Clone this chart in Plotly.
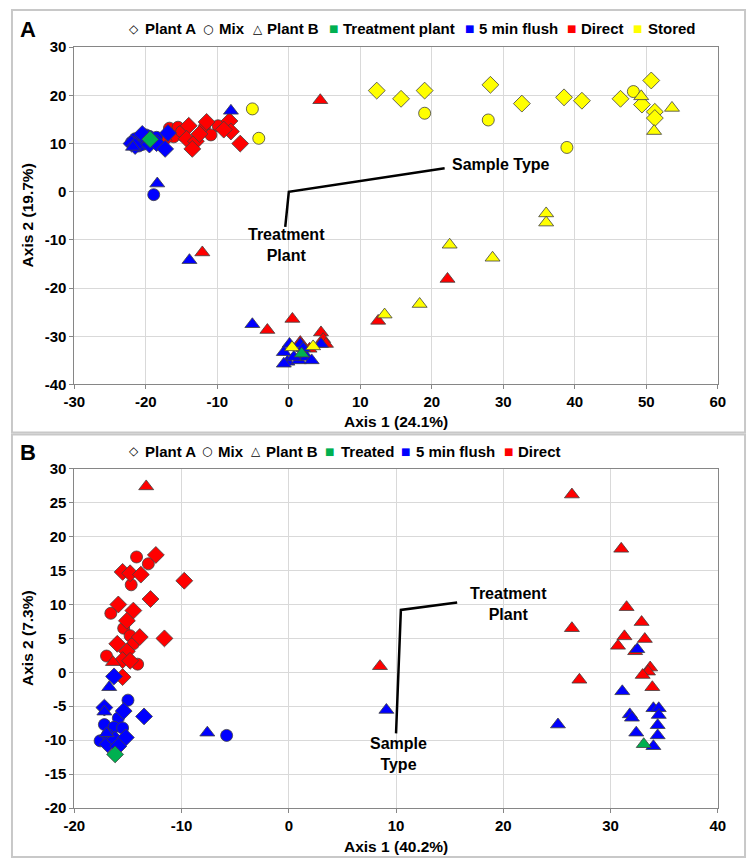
import plotly.graph_objects as go

# ---------------- Panel A data ----------------
A_flush_circle_x = [-21.0, -20.5, -21.5, -20.0, -19.5, -20.5, -22.0, -21.0, -19.0, -18.5, -20.0, -18.9]
A_flush_circle_y = [10.5, 11.2, 11.0, 10.2, 11.5, 9.8, 10.3, 9.5, 10.5, 11.3, 11.8, -0.6]
A_flush_diamond_x = [-22.0, -21.5, -19.5, -18.5, -16.9, -17.3, -20.5]
A_flush_diamond_y = [10.0, 9.5, 9.8, 10.1, 12.2, 8.9, 12.0]
A_flush_tri_x = [-21.8, -8.1, -18.4, -13.9, -5.1, 0.1, -0.7, -0.2, 1.4, 1.6, 2.5, 0.7, 4.5, -0.7, 2.0, 3.2]
A_flush_tri_y = [9.3, 16.8, 1.7, -14.2, -27.5, -31.6, -33.3, -35.3, -35.0, -31.6, -34.3, -34.3, -31.6, -35.7, -32.5, -35.0]

A_direct_circle_x = [-16.7, -15.5, -14.8, -16.1, -11.8, -9.9, -10.9, -15.0]
A_direct_circle_y = [13.2, 13.4, 11.7, 11.4, 13.4, 13.7, 11.8, 12.5]
A_direct_diamond_x = [-14.0, -14.3, -13.0, -13.5, -11.5, -8.3, -8.1, -6.8, -9.1, -17.5, -12.5]
A_direct_diamond_y = [13.7, 11.0, 10.5, 8.9, 14.5, 14.7, 12.5, 10.0, 12.9, 10.7, 12.0]
A_direct_tri_x = [4.4, -12.1, -3.0, 0.5, 1.6, 4.5, 4.8, 5.2, 2.9, 12.5, 22.2]
A_direct_tri_y = [19.0, -12.6, -28.7, -26.4, -31.2, -29.2, -30.6, -31.6, -32.6, -26.8, -18.1]

A_plant_diamond_x = [-19.4]
A_plant_diamond_y = [10.9]
A_plant_tri_x = [1.8]
A_plant_tri_y = [-33.6]

A_stored_diamond_x = [12.3, 15.7, 19.0, 28.2, 32.6, 38.5, 41.0, 46.4, 50.7, 49.4, 51.2, 51.2]
A_stored_diamond_y = [21.0, 19.3, 21.0, 22.2, 18.3, 19.6, 18.9, 19.3, 23.1, 18.1, 16.6, 15.3]
A_stored_circle_x = [-5.1, -4.2, 19.0, 27.9, 38.9, 48.2]
A_stored_circle_y = [17.2, 11.1, 16.3, 14.9, 9.2, 20.8]
A_stored_tri_x = [49.3, 53.6, 51.1, 36.0, 36.0, 28.5, 22.5, 18.3, 13.4, 0.45, 3.4]
A_stored_tri_y = [19.8, 17.4, 12.6, -4.5, -6.4, -13.7, -11.0, -23.3, -25.5, -32.3, -32.1]

# ---------------- Panel B data ----------------
B_direct_tri_x = [-13.3, -16.4, 8.5, 26.4, 31.0, 31.5, 26.4, 32.9, 31.3, 33.2, 30.7, 32.3, 33.7, 33.5, 33.0, 27.1, 33.9]
B_direct_tri_y = [27.4, 1.5, 0.9, 26.2, 18.2, 9.6, 6.5, 7.4, 5.3, 4.9, 3.9, 3.1, 0.7, 0.1, -0.4, -1.1, -2.2]
B_direct_circle_x = [-14.2, -13.1, -14.7, -16.6, -15.4, -14.8, -14.5, -17.0, -14.1]
B_direct_circle_y = [17.0, 16.0, 12.9, 8.7, 6.5, 5.4, 4.2, 2.4, 1.2]
B_direct_diamond_x = [-12.4, -15.5, -14.8, -13.8, -9.75, -12.9, -15.9, -14.5, -15.1, -13.9, -11.6, -16.0, -15.1, -15.5, -14.8, -15.5]
B_direct_diamond_y = [17.3, 14.8, 14.6, 14.4, 13.5, 10.8, 10.0, 9.1, 7.6, 5.2, 5.0, 4.2, 3.1, 1.8, 1.7, -0.7]

B_flush_tri_x = [-16.75, -17.2, -17.0, -7.6, 9.1, 32.5, 31.1, 31.8, 32.0, 32.4, 34.0, 34.0, 34.5, 34.5, 34.4, 34.4, 25.1]
B_flush_tri_y = [-2.2, -5.8, -9.0, -8.9, -5.55, 3.4, -2.8, -6.2, -6.7, -8.9, -10.9, -5.3, -5.3, -6.3, -7.8, -9.3, -7.7]
B_flush_circle_x = [-15.0, -15.9, -17.2, -16.3, -15.5, -17.6, -16.9, -16.5, -5.8]
B_flush_circle_y = [-4.1, -6.75, -7.7, -8.1, -8.2, -10.1, -9.2, -10.0, -9.3]
B_flush_diamond_x = [-16.3, -17.2, -15.4, -13.5, -16.9, -16.2, -15.2, -15.9]
B_flush_diamond_y = [-0.6, -5.2, -5.7, -6.5, -10.6, -9.9, -9.6, -10.9]

B_treated_diamond_x = [-16.2]
B_treated_diamond_y = [-12.1]
B_treated_tri_x = [33.1]
B_treated_tri_y = [-10.6]

# ticks
A_xticks = list(range(-30, 61, 10))
A_yticks = list(range(-40, 31, 10))
B_xticks = list(range(-20, 41, 10))
B_yticks = list(range(-20, 31, 5))

# legend entries
A_legend_labels = ["Plant A", "Mix", "Plant B", "Treatment plant", "5 min flush", "Direct", "Stored"]
B_legend_labels = ["Plant A", "Mix", "Plant B", "Treated", "5 min flush", "Direct"]

BLUE, RED, GREEN, YELLOW = "#0000FF", "#FF0000", "#00B050", "#FFFF00"
FONT = "Liberation Sans, Arial, sans-serif"

W, H = 754, 866


def px(p):
    return p / W


def py(p):
    return 1 - p / H


fig = go.Figure()


def add(x, y, color, symbol, xa, ya, size):
    fig.add_trace(go.Scatter(
        x=x, y=y, mode="markers", xaxis=xa, yaxis=ya, showlegend=False,
        marker=dict(color=color, symbol=symbol, size=size,
                    line=dict(color="#404040", width=0.8)),
        hoverinfo="x+y"))


CS, DS, TS = 12, 13, 13
# Panel A traces
add(A_stored_diamond_x, A_stored_diamond_y, YELLOW, "diamond", "x", "y", DS)
add(A_stored_circle_x, A_stored_circle_y, YELLOW, "circle", "x", "y", CS)
add(A_direct_circle_x, A_direct_circle_y, RED, "circle", "x", "y", CS)
add(A_direct_diamond_x, A_direct_diamond_y, RED, "diamond", "x", "y", DS)
add(A_direct_tri_x, A_direct_tri_y, RED, "triangle-up", "x", "y", TS)
add(A_flush_circle_x, A_flush_circle_y, BLUE, "circle", "x", "y", CS)
add(A_flush_diamond_x, A_flush_diamond_y, BLUE, "diamond", "x", "y", DS)
add(A_flush_tri_x, A_flush_tri_y, BLUE, "triangle-up", "x", "y", TS)
add(A_stored_tri_x, A_stored_tri_y, YELLOW, "triangle-up", "x", "y", TS)
add(A_plant_diamond_x, A_plant_diamond_y, GREEN, "diamond", "x", "y", DS)
add(A_plant_tri_x, A_plant_tri_y, GREEN, "triangle-up", "x", "y", TS)

# Panel B traces
add(B_direct_circle_x, B_direct_circle_y, RED, "circle", "x2", "y2", CS)
add(B_direct_diamond_x, B_direct_diamond_y, RED, "diamond", "x2", "y2", DS)
add(B_direct_tri_x, B_direct_tri_y, RED, "triangle-up", "x2", "y2", TS)
add(B_flush_circle_x, B_flush_circle_y, BLUE, "circle", "x2", "y2", CS)
add(B_flush_diamond_x, B_flush_diamond_y, BLUE, "diamond", "x2", "y2", DS)
add(B_flush_tri_x, B_flush_tri_y, BLUE, "triangle-up", "x2", "y2", TS)
add(B_treated_diamond_x, B_treated_diamond_y, GREEN, "diamond", "x2", "y2", DS)
add(B_treated_tri_x, B_treated_tri_y, GREEN, "triangle-up", "x2", "y2", TS)

tickfont = dict(family=FONT, size=15, color="#000000", weight="bold")


def axis(ticks, rng, domain, anchor):
    return dict(range=rng, domain=domain, anchor=anchor,
                tickvals=ticks, ticktext=[str(t) for t in ticks],
                tickfont=tickfont, showgrid=True, gridcolor="#D9D9D9", gridwidth=1,
                zeroline=False, showline=True, linecolor="#868686", linewidth=1,
                mirror=True, ticks="outside", ticklen=4, tickcolor="#868686",
                fixedrange=True)


xd = [px(65), px(725)]
fig.update_layout(
    width=W, height=H, margin=dict(l=0, r=0, t=0, b=0),
    paper_bgcolor="white", plot_bgcolor="white",
    xaxis=axis(A_xticks, [-30, 60], xd, "y"),
    yaxis=axis(A_yticks, [-40, 30], [py(383), py(39)], "x"),
    xaxis2=axis(B_xticks, [-20, 40], xd, "y2"),
    yaxis2=axis(B_yticks, [-20, 30], [py(815), py(469)], "x2"),
)

# panel frames
for top, bot in [(1, 432), (434, 865)]:
    fig.add_shape(type="rect", xref="paper", yref="paper", x0=px(1), x1=px(W - 1),
                  y0=py(bot), y1=py(top), line=dict(color="#C8C8C8", width=2),
                  layer="below")

# leader lines
fig.add_shape(type="path", xref="x", yref="y", path="M 21.8 4.9 L 0 0 L -0.5 -7.3",
              line=dict(color="black", width=2.5))
fig.add_shape(type="path", xref="x2", yref="y2", path="M 15.7 10.3 L 10.45 9.2 L 10.0 -9.0",
              line=dict(color="black", width=2.5))

ann_font = dict(family=FONT, size=16, color="black", weight="bold")
anns = []
anns.append(dict(x=22.5, y=5.6, xref="x", yref="y", text="Sample Type", showarrow=False,
                 xanchor="left", yanchor="middle", font=ann_font))
anns.append(dict(x=-0.3, y=-11.1, xref="x", yref="y", text="Treatment<br>Plant", showarrow=False,
                 xanchor="center", yanchor="middle", font=ann_font))
anns.append(dict(x=20.5, y=10.0, xref="x2", yref="y2", text="Treatment<br>Plant", showarrow=False,
                 xanchor="center", yanchor="middle", font=ann_font))
anns.append(dict(x=10.2, y=-12.0, xref="x2", yref="y2", text="Sample<br>Type", showarrow=False,
                 xanchor="center", yanchor="middle", font=ann_font))

# axis titles
title_font = dict(family=FONT, size=15.5, color="black", weight="bold")
anns.append(dict(x=px(395), y=py(421), xref="paper", yref="paper", text="Axis 1 (24.1%)",
                 showarrow=False, font=title_font, xanchor="center", yanchor="middle"))
anns.append(dict(x=px(17), y=py(211), xref="paper", yref="paper", text="Axis 2 (19.7%)",
                 showarrow=False, font=title_font, textangle=-90, xanchor="center", yanchor="middle"))
anns.append(dict(x=px(395), y=py(854), xref="paper", yref="paper", text="Axis 1 (40.2%)",
                 showarrow=False, font=title_font, xanchor="center", yanchor="middle"))
anns.append(dict(x=px(17), y=py(642), xref="paper", yref="paper", text="Axis 2 (7.3%)",
                 showarrow=False, font=title_font, textangle=-90, xanchor="center", yanchor="middle"))

# panel letters
letter_font = dict(family=FONT, size=22, color="black", weight="bold")
anns.append(dict(x=px(17), y=py(21), xref="paper", yref="paper", text="A", showarrow=False,
                 font=letter_font, xanchor="center", yanchor="middle"))
anns.append(dict(x=px(17), y=py(452), xref="paper", yref="paper", text="B", showarrow=False,
                 font=letter_font, xanchor="center", yanchor="middle"))

# legend rows (marker glyph + label placed individually)
leg_font = dict(family=FONT, size=15, color="black", weight="bold")
A_leg_glyph_x = [126, 202, 253, 331, 470, 575, 643]
A_leg_text_x = [135, 211, 261, 339, 478, 583, 651]
B_leg_glyph_x = [126, 201, 251, 327, 405, 510]
B_leg_text_x = [135, 210, 260, 336, 413, 518]
glyphs = ["◇", "○", "△", "■", "■", "■", "■"]
glyph_cols = ["black", "black", "black", GREEN, BLUE, RED, YELLOW]


def legend_row(labels, gx, tx, ypix):
    for i, lab in enumerate(labels):
        gsize = 12 if i < 3 else 10
        anns.append(dict(x=px(gx[i]), y=py(ypix), xref="paper", yref="paper",
                         text=glyphs[i], showarrow=False, xanchor="center", yanchor="middle",
                         font=dict(family="DejaVu Sans, sans-serif", size=gsize, color=glyph_cols[i])))
        anns.append(dict(x=px(tx[i]), y=py(ypix), xref="paper", yref="paper",
                         text=lab, showarrow=False, xanchor="left", yanchor="middle", font=leg_font))


legend_row(A_legend_labels, A_leg_glyph_x, A_leg_text_x, 20)
legend_row(B_legend_labels, B_leg_glyph_x, B_leg_text_x, 451)

fig.update_layout(annotations=anns)
fig.write_html("out.html")
